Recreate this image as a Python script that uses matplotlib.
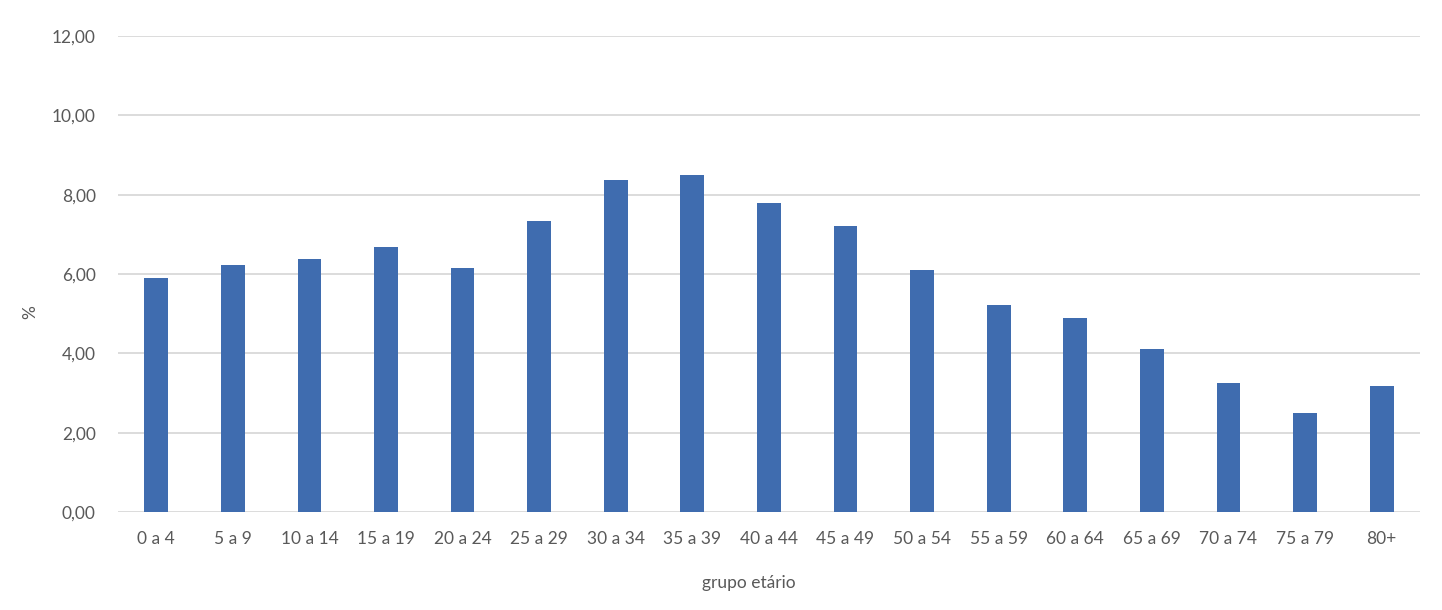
import numpy as np
import matplotlib.pyplot as plt
from matplotlib.ticker import FuncFormatter

# faixas etárias e percentuais
grupos = ['0 a 4', '5 a 9', '10 a 14', '15 a 19', '20 a 24', '25 a 29', '30 a 34',
          '35 a 39', '40 a 44', '45 a 49', '50 a 54', '55 a 59', '60 a 64',
          '65 a 69', '70 a 74', '75 a 79', '80+']
pct = [5.91, 6.23, 6.39, 6.67, 6.16, 7.33, 8.38, 8.50, 7.78, 7.21,
       6.11, 5.23, 4.88, 4.12, 3.26, 2.49, 3.17]

plt.rcParams['font.family'] = ['Lato', 'DejaVu Sans']

fig = plt.figure(figsize=(14.42, 6.10), dpi=100)
ax = fig.add_axes([0.0818, 0.1607, 0.9029, 0.7803])

x = np.arange(len(grupos))
ax.bar(x, pct, width=0.31, color='#3f6caf', zorder=3)

ax.set_xlim(-0.5, len(grupos) - 0.5)
ax.set_ylim(0, 12)
ax.set_yticks(np.arange(0, 13, 2))
ax.yaxis.set_major_formatter(FuncFormatter(lambda v, p: f'{v:.2f}'.replace('.', ',')))
ax.set_xticks(x)
ax.set_xticklabels(grupos)

ax.grid(axis='y', color='#d9d9d9', linewidth=1.3, zorder=0)
for s in ax.spines.values():
    s.set_visible(False)
ax.tick_params(length=0, colors='#595959', labelsize=12.5)
ax.tick_params(axis='x', pad=14)
ax.tick_params(axis='y', pad=16)

# rótulos dos eixos posicionados como no original (não centralizados)
fig.text(749 / 1442, 1 - 583 / 610, 'grupo etário', fontsize=12.5,
         color='#595959', ha='center', va='center')
fig.text(30 / 1442, 1 - 312 / 610, '%', rotation=90, fontsize=12.5,
         color='#595959', ha='center', va='center')

fig.savefig('out.png', dpi=100)
